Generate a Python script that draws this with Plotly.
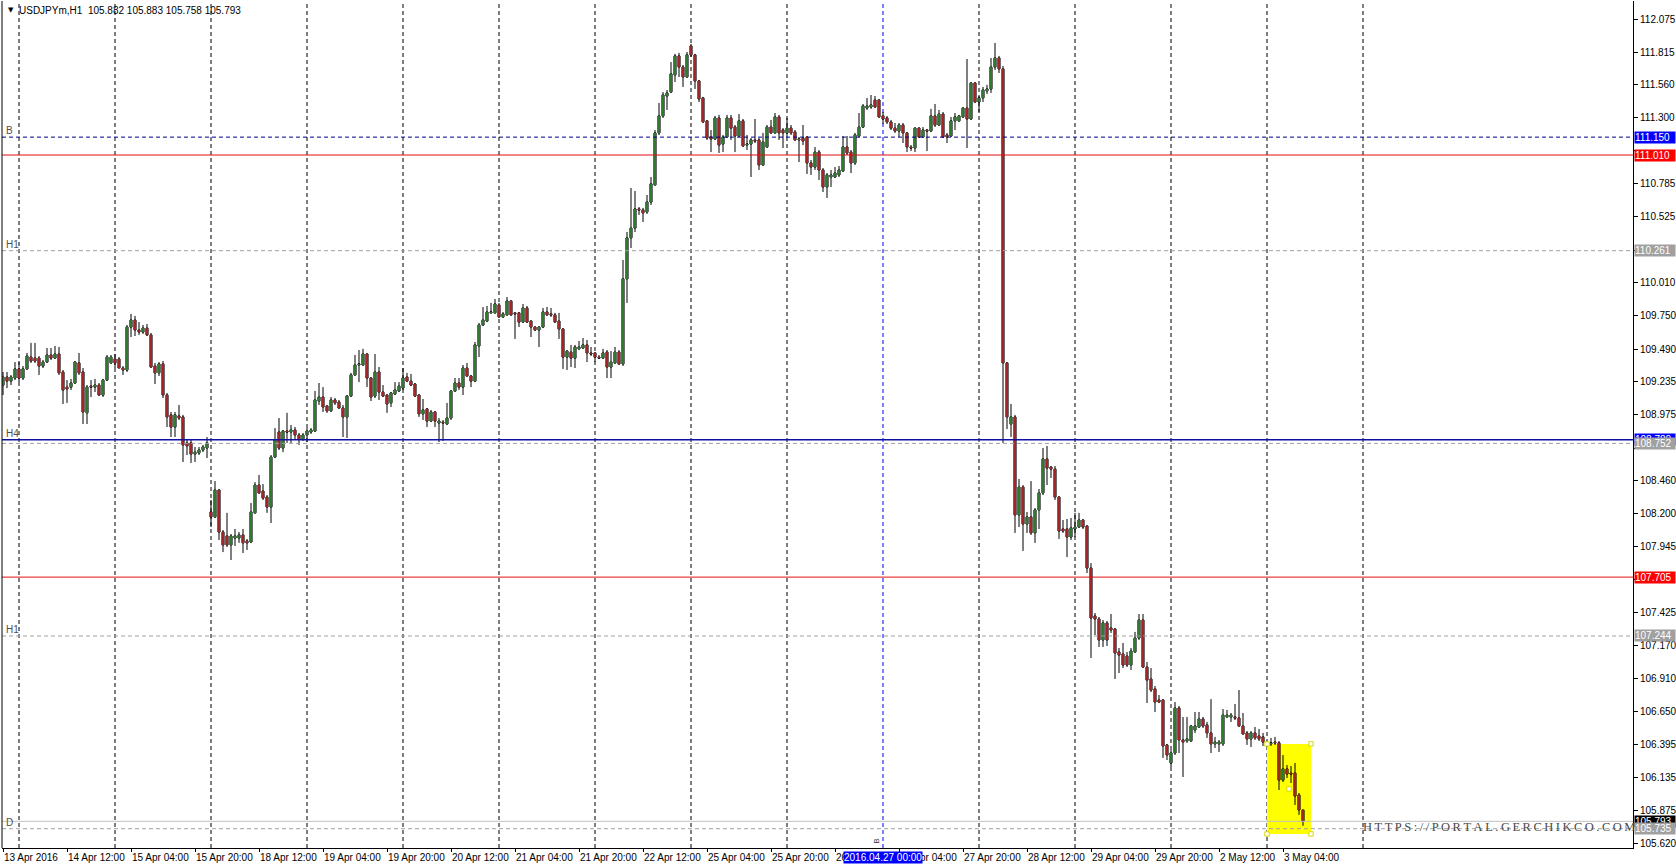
import plotly.graph_objects as go

# ---------------- data (USDJPYm, H1) ----------------
open_ = [
    109.209, 109.272, 109.240, 109.264, 109.335, 109.264, 109.335, 109.428, 109.420, 109.420,
    109.358, 109.389, 109.444, 109.420, 109.452, 109.311, 109.193, 109.193, 109.225, 109.382,
    109.311, 108.991, 109.201, 109.193, 109.209, 109.131, 109.248, 109.382, 109.413, 109.413,
    109.342, 109.327, 109.663, 109.718, 109.640, 109.624, 109.655, 109.601, 109.358, 109.304,
    109.374, 109.131, 108.975, 108.880, 108.967, 108.959, 108.756, 108.756, 108.669, 108.677,
    108.700, 108.716, 108.215, 108.176, 108.387, 108.058, 108.027, 107.957, 108.011, 108.011,
    108.035, 107.988, 107.980, 108.208, 108.426, 108.379, 108.332, 108.254, 108.645, 108.841,
    108.716, 108.849, 108.841, 108.857, 108.818, 108.787, 108.818, 108.841, 108.849, 109.084,
    109.115, 109.045, 109.006, 109.092, 109.076, 109.029, 108.959, 109.123, 109.288, 109.366,
    109.366, 109.452, 109.264, 109.123, 109.311, 109.154, 109.131, 109.069, 109.139, 109.162,
    109.185, 109.272, 109.240, 109.217, 109.131, 108.983, 109.022, 108.927, 108.998, 108.912,
    108.919, 108.904, 108.951, 109.162, 109.225, 109.193, 109.342, 109.280, 109.240, 109.515,
    109.679, 109.710, 109.774, 109.774, 109.836, 109.742, 109.758, 109.867, 109.774, 109.774,
    109.702, 109.812, 109.710, 109.663, 109.640, 109.663, 109.781, 109.766, 109.758, 109.710,
    109.648, 109.428, 109.467, 109.420, 109.492, 109.499, 109.523, 109.460, 109.460, 109.428,
    109.420, 109.467, 109.350, 109.382, 109.467, 109.374, 110.040, 110.361, 110.438, 110.588,
    110.580, 110.564, 110.642, 110.776, 111.183, 111.316, 111.472, 111.503, 111.637, 111.786,
    111.699, 111.621, 111.864, 111.794, 111.590, 111.457, 111.277, 111.151, 111.135, 111.300,
    111.096, 111.151, 111.300, 111.229, 111.159, 111.277, 111.088, 111.096, 111.128, 111.128,
    110.932, 111.073, 111.229, 111.183, 111.308, 111.206, 111.183, 111.221, 111.190, 111.128,
    111.143, 111.151, 110.948, 110.916, 111.033, 110.893, 110.760, 110.838, 110.838, 110.854,
    110.885, 111.073, 111.033, 110.948, 111.159, 111.229, 111.378, 111.386, 111.441, 111.441,
    111.316, 111.300, 111.269, 111.221, 111.198, 111.245, 111.183, 111.073, 111.065, 111.221,
    111.151, 111.206, 111.198, 111.316, 111.245, 111.331, 111.167, 111.159, 111.277, 111.277,
    111.308, 111.378, 111.292, 111.574, 111.425, 111.457, 111.512, 111.527, 111.699, 111.770,
    111.684, 109.382, 108.904, 108.959, 108.192, 108.410, 108.121, 108.176, 108.051, 108.231,
    108.364, 108.630, 108.567, 108.551, 108.332, 108.082, 108.082, 108.019, 108.082, 108.097,
    108.152, 108.105, 107.776, 107.401, 107.377, 107.213, 107.346, 107.307, 107.299, 107.119,
    107.103, 107.087, 107.017, 107.119, 107.228, 107.369, 107.001, 106.907, 106.829, 106.743,
    106.743, 106.391, 106.250, 106.328, 106.680, 106.430, 106.422, 106.422, 106.508, 106.531,
    106.594, 106.547, 106.485, 106.399, 106.399, 106.399, 106.610, 106.610, 106.610, 106.602,
    106.539, 106.485, 106.438, 106.485, 106.461, 106.454, 106.407, 106.399, 106.414, 106.407,
    106.116, 106.203, 106.171, 106.171, 105.999, 105.882,
]
high = [
    109.311, 109.311, 109.288, 109.389, 109.389, 109.358, 109.460, 109.539, 109.539, 109.436,
    109.405, 109.499, 109.499, 109.515, 109.507, 109.327, 109.248, 109.257, 109.397, 109.460,
    109.342, 109.209, 109.248, 109.257, 109.225, 109.257, 109.444, 109.444, 109.452, 109.428,
    109.358, 109.679, 109.766, 109.750, 109.702, 109.679, 109.687, 109.617, 109.382, 109.389,
    109.397, 109.147, 108.998, 108.998, 109.053, 108.975, 108.779, 108.779, 108.724, 108.724,
    108.740, 108.802, 108.309, 108.457, 108.395, 108.074, 108.208, 108.043, 108.082, 108.058,
    108.082, 108.004, 108.286, 108.449, 108.505, 108.434, 108.348, 108.661, 108.872, 108.951,
    108.857, 108.991, 108.896, 108.880, 108.834, 108.834, 108.872, 108.872, 109.162, 109.225,
    109.193, 109.053, 109.115, 109.107, 109.092, 109.053, 109.131, 109.304, 109.444, 109.483,
    109.492, 109.460, 109.272, 109.452, 109.350, 109.209, 109.139, 109.154, 109.232, 109.232,
    109.342, 109.304, 109.296, 109.225, 109.139, 109.100, 109.029, 109.014, 109.006, 108.951,
    108.935, 109.069, 109.170, 109.264, 109.264, 109.366, 109.382, 109.288, 109.546, 109.695,
    109.820, 109.828, 109.852, 109.883, 109.852, 109.781, 109.898, 109.875, 109.781, 109.781,
    109.844, 109.828, 109.718, 109.671, 109.671, 109.812, 109.820, 109.812, 109.774, 109.774,
    109.655, 109.483, 109.523, 109.523, 109.554, 109.577, 109.562, 109.507, 109.467, 109.444,
    109.492, 109.483, 109.475, 109.507, 109.483, 110.188, 110.407, 110.752, 110.728, 110.603,
    110.596, 110.697, 110.838, 111.206, 111.418, 111.503, 111.519, 111.738, 111.802, 111.810,
    111.715, 111.817, 111.880, 111.802, 111.598, 111.465, 111.284, 111.206, 111.316, 111.324,
    111.167, 111.324, 111.324, 111.245, 111.331, 111.292, 111.167, 111.143, 111.292, 111.143,
    111.183, 111.245, 111.284, 111.339, 111.324, 111.221, 111.300, 111.245, 111.206, 111.151,
    111.245, 111.159, 110.971, 111.073, 111.049, 110.908, 110.869, 110.893, 110.916, 110.924,
    111.159, 111.159, 111.049, 111.183, 111.339, 111.410, 111.457, 111.480, 111.472, 111.449,
    111.347, 111.316, 111.284, 111.261, 111.261, 111.261, 111.190, 111.088, 111.229, 111.229,
    111.229, 111.214, 111.371, 111.410, 111.363, 111.347, 111.183, 111.308, 111.339, 111.324,
    111.386, 111.762, 111.582, 111.582, 111.472, 111.543, 111.559, 111.770, 111.887, 111.786,
    111.707, 109.389, 109.061, 108.975, 108.473, 108.426, 108.215, 108.457, 108.246, 108.395,
    108.716, 108.732, 108.575, 108.575, 108.340, 108.152, 108.160, 108.168, 108.208, 108.208,
    108.160, 108.113, 107.815, 107.424, 107.393, 107.369, 107.361, 107.416, 107.307, 107.150,
    107.189, 107.119, 107.150, 107.276, 107.416, 107.416, 107.040, 106.993, 106.852, 106.782,
    106.750, 106.399, 106.351, 106.727, 106.696, 106.610, 106.610, 106.547, 106.649, 106.649,
    106.610, 106.571, 106.750, 106.454, 106.430, 106.672, 106.665, 106.641, 106.712, 106.821,
    106.641, 106.500, 106.500, 106.532, 106.516, 106.485, 106.422, 106.446, 106.454, 106.422,
    106.312, 106.234, 106.226, 106.250, 106.015, 105.883,
]
low = [
    109.131, 109.185, 109.209, 109.248, 109.232, 109.248, 109.327, 109.382, 109.382, 109.288,
    109.342, 109.382, 109.405, 109.413, 109.288, 109.061, 109.069, 109.170, 109.217, 109.288,
    108.904, 108.904, 109.115, 109.154, 109.123, 109.115, 109.240, 109.374, 109.342, 109.342,
    109.288, 109.311, 109.585, 109.593, 109.601, 109.609, 109.593, 109.342, 109.217, 109.280,
    109.107, 108.880, 108.802, 108.802, 108.935, 108.606, 108.661, 108.599, 108.606, 108.661,
    108.684, 108.637, 108.097, 108.168, 107.996, 107.901, 107.941, 107.839, 107.949, 107.973,
    107.894, 107.917, 107.973, 108.200, 108.356, 108.309, 108.208, 108.129, 108.637, 108.700,
    108.684, 108.756, 108.756, 108.779, 108.740, 108.771, 108.763, 108.826, 108.841, 109.053,
    108.998, 108.991, 108.998, 109.053, 109.022, 108.802, 108.794, 109.115, 109.280, 109.232,
    109.358, 109.193, 109.084, 109.107, 109.092, 109.115, 108.991, 109.037, 109.131, 109.154,
    109.170, 109.232, 109.201, 109.115, 108.959, 108.935, 108.880, 108.919, 108.880, 108.763,
    108.771, 108.896, 108.935, 109.154, 109.170, 109.131, 109.272, 109.193, 109.232, 109.428,
    109.671, 109.702, 109.766, 109.766, 109.734, 109.734, 109.750, 109.750, 109.570, 109.663,
    109.695, 109.695, 109.585, 109.632, 109.507, 109.655, 109.750, 109.742, 109.695, 109.570,
    109.335, 109.327, 109.350, 109.342, 109.483, 109.492, 109.389, 109.436, 109.389, 109.413,
    109.413, 109.264, 109.264, 109.374, 109.366, 109.358, 109.852, 110.282, 110.407, 110.541,
    110.485, 110.549, 110.619, 110.768, 111.167, 111.300, 111.363, 111.496, 111.582, 111.621,
    111.543, 111.613, 111.778, 111.527, 111.425, 111.261, 111.128, 111.033, 111.128, 111.026,
    111.033, 111.143, 111.128, 111.033, 111.151, 111.073, 111.049, 110.838, 111.104, 110.893,
    110.924, 111.065, 111.175, 111.175, 111.128, 111.065, 111.151, 111.167, 111.120, 110.955,
    111.088, 110.862, 110.854, 110.893, 110.815, 110.720, 110.674, 110.760, 110.830, 110.838,
    110.877, 111.010, 110.869, 110.932, 111.151, 111.221, 111.363, 111.371, 111.378, 111.300,
    111.253, 111.253, 111.206, 111.183, 111.151, 111.104, 111.033, 111.041, 111.033, 111.143,
    111.143, 111.041, 111.190, 111.229, 111.237, 111.143, 111.104, 111.151, 111.206, 111.269,
    111.300, 111.065, 111.284, 111.418, 111.347, 111.425, 111.488, 111.496, 111.676, 111.652,
    108.756, 108.864, 108.802, 108.051, 108.097, 107.910, 108.051, 108.035, 107.973, 108.082,
    108.348, 108.426, 108.481, 108.309, 108.004, 108.051, 107.862, 107.996, 108.019, 108.090,
    108.082, 107.737, 107.072, 107.252, 107.158, 107.158, 107.166, 107.268, 106.907, 106.954,
    106.993, 107.001, 106.978, 107.111, 107.213, 106.993, 106.719, 106.805, 106.649, 106.719,
    106.289, 106.273, 106.218, 106.312, 106.328, 106.140, 106.407, 106.414, 106.485, 106.524,
    106.524, 106.446, 106.328, 106.367, 106.336, 106.383, 106.602, 106.571, 106.586, 106.532,
    106.469, 106.391, 106.375, 106.430, 106.422, 106.383, 106.375, 106.383, 106.391, 106.038,
    106.101, 106.132, 106.093, 105.921, 105.843, 105.758,
]
close = [
    109.272, 109.240, 109.272, 109.335, 109.264, 109.335, 109.436, 109.397, 109.397, 109.358,
    109.389, 109.444, 109.420, 109.452, 109.304, 109.170, 109.178, 109.225, 109.389, 109.304,
    108.998, 109.193, 109.193, 109.209, 109.131, 109.248, 109.428, 109.428, 109.382, 109.342,
    109.327, 109.663, 109.718, 109.640, 109.624, 109.655, 109.601, 109.350, 109.304, 109.374,
    109.131, 108.959, 108.880, 108.975, 108.951, 108.740, 108.732, 108.669, 108.684, 108.700,
    108.724, 108.756, 108.176, 108.387, 108.058, 107.957, 107.957, 108.027, 108.027, 108.035,
    107.973, 107.973, 108.215, 108.426, 108.364, 108.324, 108.254, 108.645, 108.779, 108.716,
    108.849, 108.841, 108.857, 108.818, 108.787, 108.818, 108.849, 108.857, 109.092, 109.115,
    109.037, 109.006, 109.092, 109.069, 109.029, 108.959, 109.123, 109.288, 109.366, 109.374,
    109.452, 109.264, 109.115, 109.311, 109.154, 109.123, 109.061, 109.147, 109.170, 109.201,
    109.264, 109.240, 109.209, 109.123, 108.983, 109.014, 108.927, 108.998, 108.927, 108.927,
    108.912, 108.951, 109.162, 109.225, 109.193, 109.342, 109.280, 109.240, 109.523, 109.679,
    109.718, 109.781, 109.781, 109.844, 109.742, 109.766, 109.867, 109.758, 109.766, 109.702,
    109.812, 109.702, 109.663, 109.640, 109.663, 109.781, 109.758, 109.758, 109.702, 109.648,
    109.428, 109.475, 109.420, 109.507, 109.507, 109.523, 109.460, 109.452, 109.428, 109.420,
    109.460, 109.350, 109.389, 109.467, 109.374, 110.040, 110.361, 110.438, 110.588, 110.580,
    110.557, 110.642, 110.784, 111.183, 111.316, 111.480, 111.496, 111.645, 111.786, 111.699,
    111.621, 111.794, 111.794, 111.590, 111.449, 111.269, 111.143, 111.135, 111.300, 111.088,
    111.151, 111.300, 111.221, 111.159, 111.277, 111.081, 111.096, 111.128, 111.120, 110.932,
    111.112, 111.229, 111.183, 111.308, 111.183, 111.183, 111.221, 111.183, 111.128, 111.135,
    111.120, 110.948, 110.916, 111.033, 110.893, 110.760, 110.854, 110.854, 110.869, 110.893,
    111.073, 111.026, 110.948, 111.167, 111.229, 111.394, 111.394, 111.402, 111.386, 111.308,
    111.292, 111.269, 111.221, 111.198, 111.245, 111.183, 111.073, 111.065, 111.221, 111.151,
    111.206, 111.198, 111.316, 111.245, 111.331, 111.151, 111.151, 111.277, 111.308, 111.316,
    111.378, 111.292, 111.574, 111.425, 111.457, 111.519, 111.527, 111.699, 111.770, 111.684,
    109.382, 108.959, 108.959, 108.192, 108.410, 108.121, 108.176, 108.051, 108.231, 108.364,
    108.630, 108.559, 108.551, 108.332, 108.066, 108.066, 108.019, 108.090, 108.097, 108.152,
    108.097, 107.776, 107.385, 107.377, 107.213, 107.346, 107.213, 107.291, 107.111, 107.095,
    107.017, 107.017, 107.126, 107.228, 107.369, 107.001, 106.899, 106.821, 106.727, 106.727,
    106.383, 106.312, 106.328, 106.680, 106.430, 106.414, 106.438, 106.539, 106.539, 106.594,
    106.539, 106.485, 106.399, 106.414, 106.414, 106.625, 106.625, 106.625, 106.602, 106.539,
    106.477, 106.438, 106.485, 106.446, 106.438, 106.414, 106.399, 106.407, 106.407, 106.116,
    106.203, 106.163, 106.163, 105.991, 105.882, 105.793,
]
bars = list(range(len(close)))

# time axis labels (every 16 bars) and day separators (midnight bars)
time_label_bars = [0, 16, 32, 48, 64, 80, 96, 112, 128, 144, 160, 176, 192, 208, 224,
                   240, 256, 272, 288, 304, 320]
time_labels = ["13 Apr 2016", "14 Apr 12:00", "15 Apr 04:00", "15 Apr 20:00", "18 Apr 12:00",
               "19 Apr 04:00", "19 Apr 20:00", "20 Apr 12:00", "21 Apr 04:00", "21 Apr 20:00",
               "22 Apr 12:00", "25 Apr 04:00", "25 Apr 20:00", "26 Apr 12:00", "27 Apr 04:00",
               "27 Apr 20:00", "28 Apr 12:00", "29 Apr 04:00", "29 Apr 20:00", "2 May 12:00",
               "3 May 04:00"]
day_bars = [4, 28, 52, 76, 100, 124, 148, 172, 196, 220, 244, 268, 292, 316, 340]
cursor_bar = 220
cursor_label = "2016.04.27 00:00"

price_ticks = [112.075, 111.815, 111.560, 111.300, 111.045, 110.785, 110.525, 110.265,
               110.010, 109.750, 109.490, 109.235, 108.975, 108.715, 108.460, 108.200,
               107.945, 107.685, 107.425, 107.170, 106.910, 106.650, 106.395, 106.135,
               105.875, 105.620]
# ticks whose text is covered by a level label on the price scale
covered_ticks = [111.045, 110.265, 108.715, 107.685]

# horizontal levels
level_prices = [111.150, 111.010, 110.261, 108.780, 108.752, 107.705, 107.244, 105.793, 105.735]
level_names = ["B", "", "H1", "H4", "", "", "H1", "", "D"]

# highlighted box (yellow rectangle)
box_bars = [316, 327]
box_prices = [105.694, 106.399]

symbol = "USDJPYm,H1"
watermark = "HTTPS://PORTAL.GERCHIKCO.COM"

# ---------------- styles ----------------
W, H = 1676, 867
ML, MR, MT, MB = 2, 43, 1, 19
PX_PER_BAR = 4.0
PRICE_PER_PX = 0.00783
plot_w = W - ML - MR
plot_h = H - MT - MB
x_min = -0.25
x_max = x_min + plot_w / PX_PER_BAR
y_max = 112.216
y_min = y_max - plot_h * PRICE_PER_PX

FONT = "Liberation Sans, Arial, sans-serif"

level_line_color = ["#00008c", "#e01010", "#a0a0a0", "#1010a0", "#a0a0a0", "#e01010",
                    "#a0a0a0", "#c0c0c0", "#a0a0a0"]
level_line_dash = ["4px,3px", "solid", "4px,3px", "solid", "4px,3px", "solid",
                   "4px,3px", "solid", "4px,3px"]
level_line_width = [1, 1, 1, 1.5, 1, 1, 1, 1, 1]
level_label_bg = ["#0000ff", "#ff0000", "#a0a0a0", "#0000ff", "#a0a0a0", "#ff0000",
                  "#a0a0a0", "#000000", "#a0a0a0"]

fig = go.Figure()
# wicks + black outline
fig.add_trace(go.Candlestick(
    x=bars, open=open_, high=high, low=low, close=close,
    increasing=dict(line=dict(color="#000000", width=1), fillcolor="#000000"),
    decreasing=dict(line=dict(color="#000000", width=1), fillcolor="#000000"),
    whiskerwidth=0, hoverinfo="skip", showlegend=False,
))
# coloured bodies on top
fig.add_trace(go.Candlestick(
    x=bars, open=open_, high=high, low=low, close=close,
    increasing=dict(line=dict(color="rgba(0,0,0,0)", width=0), fillcolor="#2f7a2f"),
    decreasing=dict(line=dict(color="rgba(0,0,0,0)", width=0), fillcolor="#a32525"),
    whiskerwidth=0, hoverinfo="skip", showlegend=False,
))

shapes = []
# yellow highlight box
shapes.append(dict(type="rect", xref="x", yref="y", x0=box_bars[0], x1=box_bars[1],
                   y0=box_prices[0], y1=box_prices[1], fillcolor="#ffff00",
                   line=dict(width=0), layer="below"))
# day separators
for b in day_bars:
    shapes.append(dict(type="line", xref="x", yref="paper", x0=b, x1=b, y0=0, y1=1,
                       line=dict(color="#0000ff" if b == cursor_bar else "#000000",
                                 width=1, dash="4px,3px"), layer="below"))
# horizontal levels
for p, c, d, w in zip(level_prices, level_line_color, level_line_dash, level_line_width):
    shapes.append(dict(type="line", xref="paper", yref="y", x0=0, x1=1, y0=p, y1=p,
                       line=dict(color=c, width=w, dash=d), layer="above"))
# left border
shapes.append(dict(type="line", xref="paper", yref="paper", x0=0, x1=0, y0=0, y1=1,
                   line=dict(color="#000000", width=1)))
# selection handles of the yellow box
hx = 0.55
hy = 2.2 * PRICE_PER_PX
mid_bar = (box_bars[0] + box_bars[1]) / 2
mid_price = (box_prices[0] + box_prices[1]) / 2
for bx, py in [(box_bars[0], box_prices[0]), (box_bars[0], box_prices[1]),
               (box_bars[1], box_prices[0]), (box_bars[1], box_prices[1]),
               (mid_bar, mid_price)]:
    shapes.append(dict(type="rect", xref="x", yref="y", x0=bx - hx, x1=bx + hx,
                       y0=py - hy, y1=py + hy, fillcolor="#ffffff",
                       line=dict(color="#d8d800", width=1), layer="above"))

annotations = []
# header
annotations.append(dict(xref="paper", yref="paper", x=4 / plot_w, y=(plot_h - 9) / plot_h,
                        xanchor="left", yanchor="middle", showarrow=False, text="▼",
                        font=dict(family="DejaVu Sans", size=7, color="#000000")))
annotations.append(dict(xref="paper", yref="paper", x=15 / plot_w, y=(plot_h - 9) / plot_h,
                        xanchor="left", yanchor="middle", showarrow=False,
                        text=f"{symbol}\u00a0 {open_[-1]:.3f} {high[-1]:.3f} {low[-1]:.3f} {close[-1]:.3f}",
                        font=dict(family=FONT, size=10, color="#000000")))
# level names on the left
for p, n in zip(level_prices, level_names):
    if n:
        annotations.append(dict(xref="paper", yref="y", x=2 / plot_w, y=p,
                                xanchor="left", yanchor="bottom", yshift=-1,
                                showarrow=False, text=n,
                                font=dict(family=FONT, size=10, color="#505050")))
# watermark
annotations.append(dict(xref="paper", yref="y", x=(1361 - ML) / plot_w, y=close[-1] - 0.045,
                        xanchor="left", yanchor="middle", showarrow=False,
                        text="\u2009".join(watermark),
                        font=dict(family="Liberation Serif, serif", size=12.5, color="#4a4a4a")))
# price labels on the right axis
for p, bg in zip(level_prices, level_label_bg):
    annotations.append(dict(xref="paper", yref="y", x=1, y=p, xanchor="left",
                            yanchor="middle", xshift=1, showarrow=False,
                            text=f"{p:.3f}", bgcolor=bg, width=40, align="left",
                            borderpad=0,
                            font=dict(family=FONT, size=10, color="#ffffff")))
# cursor time label
annotations.append(dict(xref="x", yref="paper", x=cursor_bar, y=-9 / plot_h,
                        xanchor="center", yanchor="middle", showarrow=False,
                        text=cursor_label, bgcolor="#0000ff", borderpad=0,
                        font=dict(family=FONT, size=10, color="#ffffff")))
annotations.append(dict(xref="x", yref="paper", x=cursor_bar - 1.8, y=7 / plot_h,
                        xanchor="center", yanchor="middle", showarrow=False,
                        text="B", textangle=-90,
                        font=dict(family=FONT, size=8, color="#303030")))

fig.update_layout(
    width=W, height=H, autosize=False,
    margin=dict(l=ML, r=MR, t=MT, b=MB, pad=0, autoexpand=False),
    paper_bgcolor="#ffffff", plot_bgcolor="#ffffff",
    showlegend=False, boxgap=0.25, boxmode="overlay", hovermode=False,
    shapes=shapes, annotations=annotations,
    xaxis=dict(range=[x_min, x_max], showgrid=False, zeroline=False, automargin=False,
               showline=True, linecolor="#000000", linewidth=1,
               ticks="outside", ticklen=3, tickcolor="#000000", tickwidth=1,
               tickmode="array", tickvals=time_label_bars, ticktext=time_labels,
               tickangle=0, ticklabelposition="outside right",
               tickfont=dict(family=FONT, size=10, color="#000000"),
               rangeslider=dict(visible=False), fixedrange=True),
    yaxis=dict(range=[y_min, y_max], side="right", showgrid=False, zeroline=False,
               automargin=False,
               showline=True, linecolor="#000000", linewidth=1,
               ticks="outside", ticklen=4, tickcolor="#000000", tickwidth=1,
               tickmode="array", tickvals=price_ticks,
               ticktext=["" if v in covered_ticks else f"{v:.3f}" for v in price_ticks],
               tickfont=dict(family=FONT, size=10, color="#000000"),
               fixedrange=True),
)

fig.write_html("out.html", config={"displayModeBar": False},
               post_script="document.body.style.margin='0';document.body.style.overflow='hidden';")
